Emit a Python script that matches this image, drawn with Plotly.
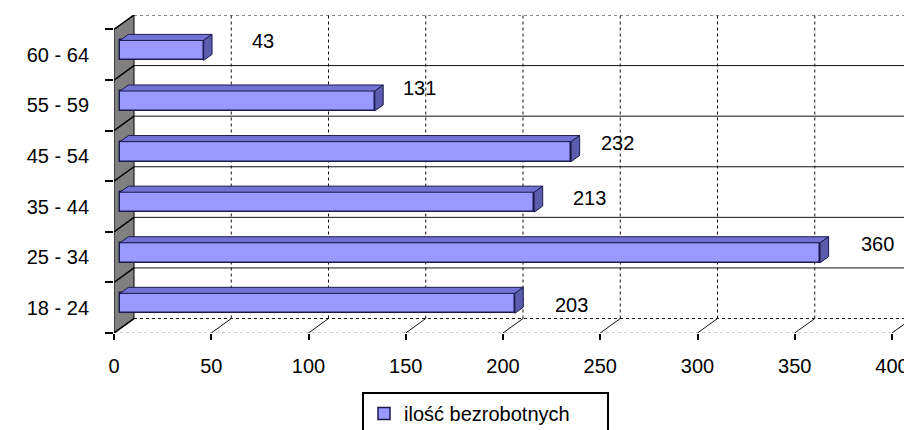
import plotly.graph_objects as go

# ---------------- data ----------------
categories = ["18 - 24", "25 - 34", "35 - 44", "45 - 54", "55 - 59", "60 - 64"]
values = [203, 360, 213, 232, 131, 43]
series_name = "ilość bezrobotnych"
x_ticks = [0, 50, 100, 150, 200, 250, 300, 350, 400]

# ---------------- layout geometry (pixels, in the 912x430 window) ----------------
WIN_W, WIN_H = 912, 430
PAGE_PAD = 8                      # default body margin of the html page
W, H = WIN_W - PAGE_PAD, WIN_H - PAGE_PAD
FRONT_L, FRONT_R, FRONT_T, FRONT_B = 114, 892, 29, 333
DEPTH_PX_X, DEPTH_PX_Y = 20, 14.5
XMAX = 400
plot_w = (FRONT_R + DEPTH_PX_X) - FRONT_L
x_per_px = XMAX / (FRONT_R - FRONT_L)
y_per_px = len(categories) / (FRONT_B - FRONT_T)
x_range = [0, XMAX + DEPTH_PX_X * x_per_px]
y_range = [-0.5, len(categories) - 0.5 + DEPTH_PX_Y * y_per_px]
ddx = DEPTH_PX_X * x_per_px
ddy = DEPTH_PX_Y * y_per_px

m_l = FRONT_L - PAGE_PAD
m_t = FRONT_T - DEPTH_PX_Y - PAGE_PAD
m_r = W - m_l - plot_w
m_b = H - (FRONT_B - PAGE_PAD)

F1, F2 = 0.3, 0.72          # bar front / back depth fractions
HALF = 0.197                # bar half thickness (category units)

FONT = "Liberation Sans, Arial, sans-serif"
FS = 20
BAR_FRONT = "#9999FF"
BAR_TOP = "#7272D4"
BAR_CAP = "#5C5CAE"
BAR_EDGE = "#1A1A4D"

# label nudges (pixels) relative to bar end, as placed in the original
label_dx = [63, 63, 61, 52, 51, 65]
label_dy = [3, 13, 9, 13, 17, 14]

shapes = []

def poly(pts, fill, line_color, width=1, dash="solid", layer="below"):
    d = "M " + " L ".join(f"{x},{y}" for x, y in pts) + " Z"
    return dict(type="path", path=d, xref="x", yref="y", fillcolor=fill,
                line=dict(color=line_color, width=width, dash=dash), layer=layer)

def seg(x0, y0, x1, y1, color, width=1, dash="solid", layer="below"):
    return dict(type="line", xref="x", yref="y", x0=x0, y0=y0, x1=x1, y1=y1,
                line=dict(color=color, width=width, dash=dash), layer=layer)

n = len(categories)
bot, top = -0.5, n - 0.5

# floor
shapes.append(poly([(0, bot), (XMAX, bot), (XMAX + ddx, bot + ddy), (ddx, bot + ddy)],
                   "white", "#9a9a9a", 1, "dot"))
for v in x_ticks[1:]:
    shapes.append(seg(v, bot, v + ddx, bot + ddy, "#111111", 1))

# back wall gridlines (vertical)
for v in x_ticks[1:]:
    shapes.append(seg(v + ddx, bot + ddy, v + ddx, top + ddy, "#111111", 1, "dot"))
# back wall gridlines (horizontal, category boundaries)
for k in range(n + 1):
    b = bot + k
    shapes.append(seg(ddx, b + ddy, XMAX + ddx, b + ddy, "#111111", 1,
                      "dot" if k in (0, n) else "solid"))

# side wall
shapes.append(poly([(0, bot), (ddx, bot + ddy), (ddx, top + ddy), (0, top)],
                   "#808080", "#000000", 1))
for k in range(n + 1):
    b = bot + k
    shapes.append(seg(0, b, ddx, b + ddy, "#000000", 1.5))

# bar 3D faces (top and end cap)
dd_x = (F2 - F1) * ddx
dd_y = (F2 - F1) * ddy
for i, v in enumerate(values):
    x0 = F1 * ddx
    x1 = v + F1 * ddx
    y0 = i - HALF + F1 * ddy
    y1 = i + HALF + F1 * ddy
    shapes.append(poly([(x0, y1), (x1, y1), (x1 + dd_x, y1 + dd_y), (x0 + dd_x, y1 + dd_y)],
                       BAR_TOP, BAR_EDGE, 1, layer="above"))
    shapes.append(poly([(x1, y0), (x1, y1), (x1 + dd_x, y1 + dd_y), (x1 + dd_x, y0 + dd_y)],
                       BAR_CAP, BAR_EDGE, 1, layer="above"))

fig = go.Figure()
fig.add_trace(go.Bar(
    name=series_name,
    orientation="h",
    y=categories,
    x=values,
    base=F1 * ddx,
    width=2 * HALF,
    offset=-HALF + F1 * ddy,
    marker=dict(color=BAR_FRONT, line=dict(color=BAR_EDGE, width=1.5)),
    hoverinfo="x+y",
    showlegend=True,
))

annotations = []
for i, v in enumerate(values):
    annotations.append(dict(
        x=v, y=categories[i], xref="x", yref="y", text=str(v), showarrow=False,
        xanchor="center", yanchor="middle", xshift=label_dx[i], yshift=label_dy[i],
        font=dict(family=FONT, size=FS, color="black"),
    ))

fig.update_layout(
    width=W, height=H,
    margin=dict(l=m_l, r=m_r, t=m_t, b=m_b, pad=0, autoexpand=False),
    paper_bgcolor="white", plot_bgcolor="white",
    font=dict(family=FONT, size=FS, color="black"),
    shapes=shapes,
    annotations=annotations,
    bargap=0,
    showlegend=True,
    legend=dict(
        orientation="h",
        xref="container", yref="container",
        x=(362 - PAGE_PAD) / W, y=1 - (392 - PAGE_PAD) / H, xanchor="left", yanchor="top",
        bordercolor="black", borderwidth=2, bgcolor="white",
        font=dict(family=FONT, size=FS, color="black"),
        entrywidth=198, entrywidthmode="pixels",
        itemwidth=30,
    ),
    xaxis=dict(
        range=x_range, tickvals=x_ticks, ticktext=[str(t) for t in x_ticks],
        showgrid=False, zeroline=False, showline=False, automargin=False,
        ticks="outside", ticklen=6, tickwidth=2, tickcolor="black",
        ticklabelstandoff=9, ticklabeloverflow="allow",
        tickfont=dict(family=FONT, size=FS, color="black"),
        fixedrange=True,
    ),
    yaxis=dict(
        type="category", categoryorder="array", categoryarray=categories,
        range=y_range, automargin=False,
        showgrid=False, zeroline=False, showline=False,
        ticks="outside", ticklen=8, tickwidth=2, tickcolor="black",
        tickson="boundaries",
        ticklabelstandoff=24,
        tickfont=dict(family=FONT, size=FS, color="black"),
        fixedrange=True,
    ),
)

fig.write_html("out.html")
